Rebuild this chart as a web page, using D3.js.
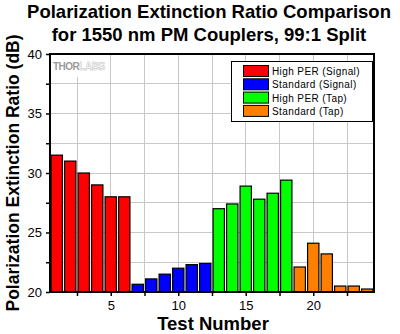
<!DOCTYPE html>
<html><head><meta charset="utf-8">
<script src="https://cdn.jsdelivr.net/npm/d3@7"></script>
<style>html,body{margin:0;padding:0;background:#fff;}svg{display:block;}</style>
</head><body>
<svg id="chart" width="400" height="334"></svg>
<script>
const tests = [1,2,3,4,5,6,7,8,9,10,11,12,13,14,15,16,17,18,19,20,21,22,23,24];
const perValues = [31.5,31.0,30.0,29.0,28.0,28.0,20.65,21.1,21.5,22.0,22.3,22.4,27.0,27.4,28.9,27.8,28.3,29.4,22.1,24.1,23.2,20.5,20.5,20.25];
const groupOf = ["hs","hs","hs","hs","hs","hs","ss","ss","ss","ss","ss","ss","ht","ht","ht","ht","ht","ht","st","st","st","st","st","st"];
const seriesKeys = ["hs","ss","ht","st"];
const seriesNames = ["High PER (Signal)","Standard (Signal)","High PER (Tap)","Standard (Tap)"];
const seriesColors = ["#ff0000","#0000ff","#00ff00","#ff8000"];
const xMajorTicks = [5,10,15,20];
const xMinorTicks = [2.5,7.5,12.5,17.5,22.5];
const yMajorTicks = [20,25,30,35,40];
const yMinorTicks = [22.5,27.5,32.5,37.5];
const titleLines = ["Polarization Extinction Ratio Comparison","for 1550 nm PM Couplers, 99:1 Split"];

const svg = d3.select("#chart");
const font = "'Liberation Sans', Arial, sans-serif";
const L = 50, R = 374, T = 54, B = 292;
const x = d3.scaleLinear().domain([0.5,24.5]).range([L,R]);
const y = d3.scaleLinear().domain([20,40]).range([B,T]);
const color = d3.scaleOrdinal().domain(seriesKeys).range(seriesColors);

// gridlines
const gx = xMajorTicks.concat(xMinorTicks);
const gy = yMajorTicks.concat(yMinorTicks).filter(v => v > 20 && v < 40);
svg.append("g").selectAll("line").data(gx).join("line")
  .attr("x1", d => x(d)).attr("x2", d => x(d)).attr("y1", T).attr("y2", B)
  .attr("stroke", "#c8c8c8").attr("stroke-width", 1).attr("shape-rendering","crispEdges");
svg.append("g").selectAll("line").data(gy).join("line")
  .attr("y1", d => y(d)).attr("y2", d => y(d)).attr("x1", L).attr("x2", R)
  .attr("stroke", "#c8c8c8").attr("stroke-width", 1).attr("shape-rendering","crispEdges");

// watermark
svg.append("rect").attr("x", L+1).attr("y", T+1).attr("width", 49).attr("height", 22).attr("fill", "#fff");
const wm = svg.append("text").attr("x", 53).attr("y", 70).attr("font-family", font)
  .attr("font-size", 10).attr("font-weight", "bold").attr("letter-spacing", -0.5);
wm.append("tspan").attr("fill", "#9a9a9a").text("THOR");
wm.append("tspan").attr("fill", "#fff").attr("stroke", "#bdbdbd").attr("stroke-width", 0.5).text("LABS");

// bars
const bw = (x(1.42) - x(0.58));
svg.append("g").selectAll("rect").data(tests).join("rect")
  .attr("x", (d) => x(d) - bw/2)
  .attr("width", bw)
  .attr("y", (d,i) => y(perValues[i]))
  .attr("height", (d,i) => y(20) - y(perValues[i]))
  .attr("fill", (d,i) => color(groupOf[i]))
  .attr("stroke", "#000").attr("stroke-width", 1.2);

// frame
svg.append("rect").attr("x", L).attr("y", T).attr("width", R-L).attr("height", B-T)
  .attr("fill", "none").attr("stroke", "#000").attr("stroke-width", 2);

// axes
const xAxis = svg.append("g").attr("transform", `translate(0,${B})`)
  .call(d3.axisBottom(x).tickValues(xMajorTicks).tickSize(4).tickSizeOuter(0).tickPadding(5));
const xMinor = svg.append("g").attr("transform", `translate(0,${B})`)
  .call(d3.axisBottom(x).tickValues(xMinorTicks).tickSize(4).tickSizeOuter(0).tickFormat(""));
const yAxis = svg.append("g").attr("transform", `translate(${L},0)`)
  .call(d3.axisLeft(y).tickValues(yMajorTicks).tickSize(4).tickSizeOuter(0).tickPadding(4));
const yMinor = svg.append("g").attr("transform", `translate(${L},0)`)
  .call(d3.axisLeft(y).tickValues(yMinorTicks).tickSize(4).tickSizeOuter(0).tickFormat(""));
[xAxis, xMinor, yAxis, yMinor].forEach(g => {
  g.select(".domain").remove();
  g.selectAll(".tick line").attr("stroke", "#000").attr("stroke-width", 1.5);
  g.selectAll(".tick text").attr("font-family", font).attr("font-size", 13).attr("fill", "#000");
});

// legend
const lg = svg.append("g");
lg.append("rect").attr("x", 231.5).attr("y", 61.5).attr("width", 141).attr("height", 60)
  .attr("fill", "#fff").attr("stroke", "#000").attr("stroke-width", 1);
const items = lg.selectAll("g.item").data(seriesKeys).join("g").attr("class", "item")
  .attr("transform", (d,i) => `translate(0,${65.5 + i*13.3})`);
items.append("rect").attr("x", 243.5).attr("y", 0).attr("width", 25).attr("height", 11)
  .attr("fill", d => color(d)).attr("stroke", "#000").attr("stroke-width", 1);
items.append("text").attr("x", 272).attr("y", 9.5).attr("font-family", font)
  .attr("font-size", 10).attr("letter-spacing", 0.4).attr("fill", "#000")
  .text((d,i) => seriesNames[i]);

// titles
svg.append("g").selectAll("text").data(titleLines).join("text")
  .attr("x", 209).attr("y", (d,i) => 18 + i*23)
  .attr("text-anchor", "middle").attr("font-family", font).attr("font-weight", "bold")
  .attr("font-size", 18.5).attr("fill", "#000").text(d => d);

svg.append("text").attr("x", (L+R)/2 + 1).attr("y", 329.5).attr("text-anchor", "middle")
  .attr("font-family", font).attr("font-weight", "bold").attr("font-size", 18.5).text("Test Number");

svg.append("text").attr("transform", `translate(19,${(T+B)/2}) rotate(-90)`)
  .attr("text-anchor", "middle").attr("font-family", font).attr("font-weight", "bold")
  .attr("font-size", 17.5).text("Polarization Extinction Ratio (dB)");
</script>
</body></html>
